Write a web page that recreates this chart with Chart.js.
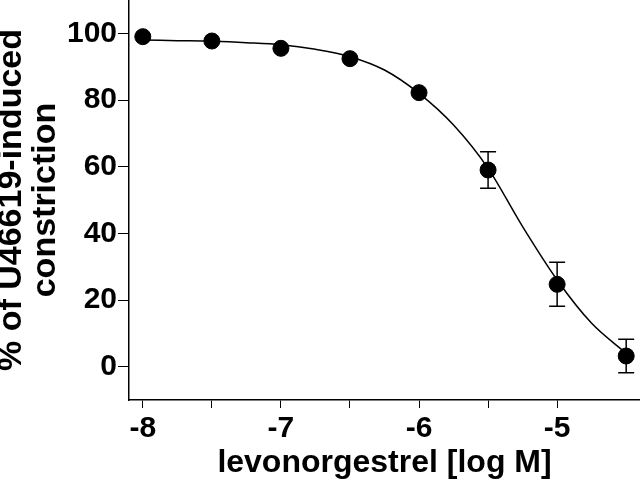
<!DOCTYPE html>
<html>
<head>
<meta charset="utf-8">
<script src="https://cdn.jsdelivr.net/npm/chart.js@4"></script>
<style>
  html, body { margin: 0; padding: 0; background: #fff; }
  #wrap { width: 640px; height: 479px; }
</style>
</head>
<body>
<div id="wrap"><canvas id="myChart"></canvas></div>
<script>
// measured points
var logConc = [-8, -7.5, -7, -6.5, -6, -5.5, -5, -4.5];
var response = [99.0, 97.7, 95.5, 92.4, 82.2, 59.0, 24.7, 3.2];
var errSem = [0, 0, 0, 0, 0, 5.5, 6.6, 5.0];

// fitted curve
var curveX = [-8, -7.75, -7.5, -7.25, -7, -6.75, -6.5, -6.25, -6, -5.75, -5.5, -5.25, -5, -4.75, -4.5];
var curveY = [98, 97.8, 97.6, 97.2, 96.6, 95.2, 93, 89, 82, 72.5, 59.5, 42, 26, 13, 4];

var xTicks = [-8, -7.5, -7, -6.5, -6, -5.5, -5];
var yTicks = [0, 20, 40, 60, 80, 100];

var font = "'Liberation Sans', Arial, sans-serif";

// error bars with caps
const errorBars = {
  id: 'errorBars',
  afterDatasetsDraw(chart) {
    const ctx = chart.ctx;
    const xs = chart.scales.x, ys = chart.scales.y;
    ctx.save();
    ctx.strokeStyle = '#000';
    ctx.lineWidth = 1.5;
    logConc.forEach((x, i) => {
      if (!errSem[i]) return;
      const px = xs.getPixelForValue(x);
      const top = ys.getPixelForValue(response[i] + errSem[i]);
      const bot = ys.getPixelForValue(response[i] - errSem[i]);
      ctx.beginPath();
      ctx.moveTo(px, top); ctx.lineTo(px, bot);
      ctx.moveTo(px - 8, top); ctx.lineTo(px + 8, top);
      ctx.moveTo(px - 8, bot); ctx.lineTo(px + 8, bot);
      ctx.stroke();
    });
    ctx.restore();
  }
};

new Chart("myChart", {
  type: "scatter",
  data: {
    datasets: [{
      data: logConc.map((x, i) => ({x: x, y: response[i]})),
      backgroundColor: "#000",
      borderColor: "#000",
      pointRadius: 8,
      order: 0
    }, {
      type: "line",
      data: curveX.map((x, i) => ({x: x, y: curveY[i]})),
      borderColor: "#000",
      borderWidth: 1.5,
      pointRadius: 0,
      cubicInterpolationMode: "monotone",
      fill: false,
      order: 1
    }]
  },
  options: {
    responsive: true,
    maintainAspectRatio: false,
    animation: false,
    layout: { padding: 0, autoPadding: false },
    plugins: { legend: { display: false }, tooltip: { enabled: false } },
    scales: {
      x: {
        type: "linear",
        min: -8.1,
        max: -4.4,
        afterBuildTicks: s => { s.ticks = xTicks.map(v => ({value: v})); },
        afterFit: s => { s.height = 79; s.paddingLeft = 0; s.paddingRight = 0; },
        grid: { drawOnChartArea: false, drawTicks: true, tickLength: 8, color: "#000" },
        border: { display: true, color: "#000", width: 1.5 },
        ticks: {
          color: "#000",
          padding: 3,
          maxRotation: 0,
          font: { family: font, size: 30, weight: "bold" },
          callback: v => Number.isInteger(v) ? String(v) : ""
        },
        title: {
          display: true,
          text: "levonorgestrel [log M]",
          color: "#000",
          padding: { top: 0, bottom: 0 },
          font: { family: font, size: 32, weight: "bold", lineHeight: 1.0 }
        }
      },
      y: {
        min: -10,
        max: 110,
        afterBuildTicks: s => { s.ticks = yTicks.map(v => ({value: v})); },
        afterFit: s => { s.width = 129; s.paddingTop = 0; s.paddingBottom = 0; },
        grid: { drawOnChartArea: false, drawTicks: true, tickLength: 11, color: "#000" },
        border: { display: true, color: "#000", width: 1.5 },
        ticks: {
          color: "#000",
          padding: 1,
          font: { family: font, size: 30, weight: "bold" }
        },
        title: {
          display: true,
          text: ["% of U46619-induced", "constriction"],
          color: "#000",
          padding: { top: -5, bottom: 0 },
          font: { family: font, size: 34, weight: "bold", lineHeight: 1.0 }
        }
      }
    }
  },
  plugins: [errorBars]
});
</script>
</body>
</html>
